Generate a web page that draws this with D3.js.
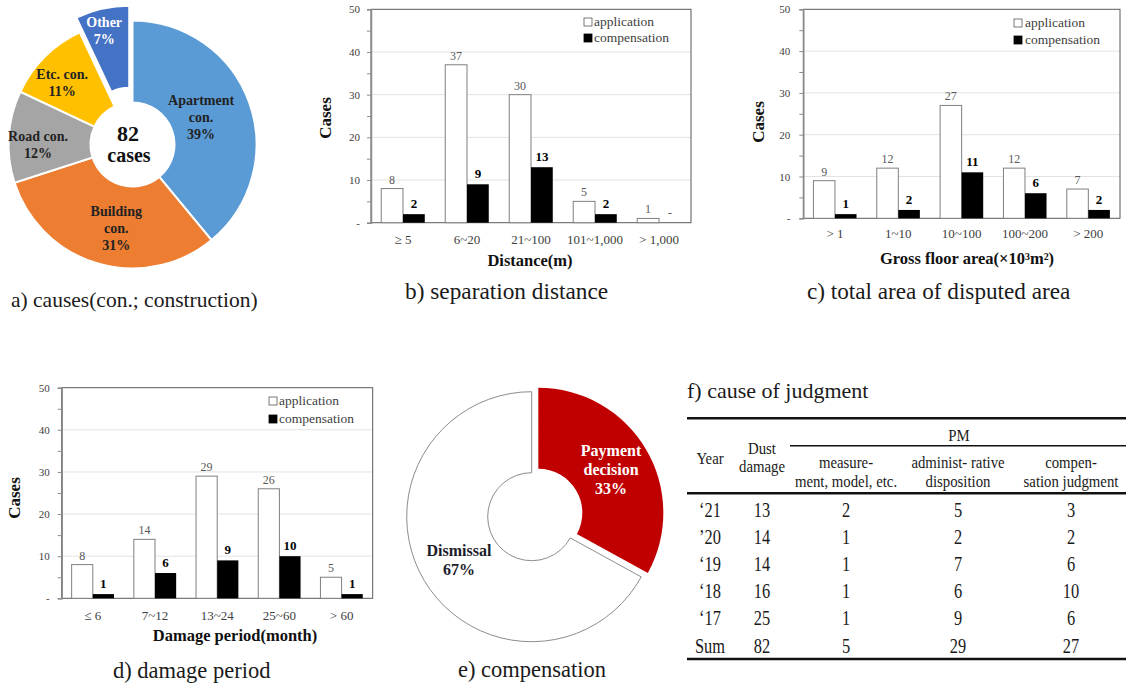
<!DOCTYPE html>
<html>
<head>
<meta charset="utf-8">
<script src="https://cdn.jsdelivr.net/npm/d3@7"></script>
<style>
  html, body { margin: 0; padding: 0; background: #fff; }
  svg { display: block; }
  text { font-family: "Liberation Serif", "Times New Roman", serif; }
</style>
</head>
<body>
<svg id="fig" width="1126" height="689"></svg>
<script>
// ---------- data ----------
// a) causes of dust-damage disputes (share of 82 cases, %)
const causeLabels = ["Apartment\ncon.", "Building\ncon.", "Road con.", "Etc. con.", "Other"];
const causeShares = [39, 31, 12, 11, 7];
const totalCases = 82;

// grouped bar charts: application vs compensation cases
const distanceCats = ["\u2265 5", "6~20", "21~100", "101~1,000", "> 1,000"];
const distanceApp  = [8, 37, 30, 5, 1];
const distanceComp = [2, 9, 13, 2, 0];

const areaCats = ["> 1", "1~10", "10~100", "100~200", "> 200"];
const areaApp  = [9, 12, 27, 12, 7];
const areaComp = [1, 2, 11, 6, 2];

const periodCats = ["\u2264 6", "7~12", "13~24", "25~60", "> 60"];
const periodApp  = [8, 14, 29, 26, 5];
const periodComp = [1, 6, 9, 10, 1];

const yTicks = [0, 10, 20, 30, 40, 50];

// e) compensation outcome (%)
const outcomeLabels = ["Payment\ndecision", "Dismissal"];
const outcomeShares = [33, 67];

// f) cause of judgment
const tableYears   = ["\u201821", "\u201920", "\u201819", "\u201818", "\u201817", "Sum"];
const tableDust    = [13, 14, 14, 16, 25, 82];
const tableMeasure = [2, 1, 1, 1, 1, 5];
const tableAdmin   = [5, 2, 7, 6, 9, 29];
const tableCompen  = [3, 2, 6, 10, 6, 27];

// ---------- drawing ----------
const svg = d3.select("#fig");
svg.append("rect").attr("width", 1126).attr("height", 689).attr("fill", "#fff");

function multiline(sel, lines, x, yCenter, lineH) {
  const y0 = yCenter - (lines.length - 1) * lineH / 2;
  lines.forEach((t, i) => {
    sel.append("text").attr("x", x).attr("y", y0 + i * lineH).attr("dy", "0.35em")
      .attr("text-anchor", "middle").text(t);
  });
}

// ----- a) donut of causes -----
(function () {
  const cx = 132.5, cy = 144.5;
  const colors = ["#5B9BD5", "#ED7D31", "#A5A5A5", "#FFC000", "#4472C4"];
  const textColors = ["#222", "#222", "#222", "#222", "#fff"];
  const explode = [0, 0, 0, 0, 15];
  // label placement: [angle in degrees clockwise from top, radius]
  const labelPolar = [[68, 74], [191, 85], [270, 94.5], [311.6, 94], [346, 117]];
  const data = causeShares.map((v, i) => ({ v, i }));
  const arcs = d3.pie().sort(null).value(d => d.v)(data);
  const arc = d3.arc().innerRadius(42).outerRadius(124);
  const g = svg.append("g").attr("transform", `translate(${cx},${cy})`);
  g.selectAll("path").data(arcs).join("path")
    .attr("d", arc)
    .attr("transform", d => {
      const m = (d.startAngle + d.endAngle) / 2, o = explode[d.data.i];
      return `translate(${Math.sin(m) * o},${-Math.cos(m) * o})`;
    })
    .attr("fill", d => colors[d.data.i])
    .attr("stroke", "#fff").attr("stroke-width", 2);
  arcs.forEach(d => {
    const i = d.data.i;
    const [deg, r] = labelPolar[i];
    const a = deg * Math.PI / 180;
    const lines = causeLabels[i].split("\n").concat([causeShares[i] + "%"]);
    const lg = g.append("g").attr("font-weight", "bold").attr("font-size", 14).attr("fill", textColors[i]);
    multiline(lg, lines, Math.sin(a) * r, -Math.cos(a) * r, 17);
  });
  const cg = svg.append("g").attr("font-weight", "bold").attr("fill", "#111").attr("text-anchor", "middle");
  cg.append("text").attr("x", 128).attr("y", 141).attr("font-size", 22).text(totalCases);
  cg.append("text").attr("x", 129).attr("y", 162).attr("font-size", 20).text("cases");
})();

// ----- grouped bar chart -----
function barChart(o) {
  const g = svg.append("g");
  const x = d3.scaleBand().domain(o.cats).range([o.x0, o.x1]);
  const sub = d3.scaleBand().domain(["application", "compensation"])
    .range([0, x.bandwidth()]).paddingOuter(0.47);
  const y = d3.scaleLinear().domain([0, 50]).range([o.y1, o.y0]);

  // gridlines
  g.selectAll("line.grid").data(yTicks.filter(t => t > 0 && t < 50)).join("line")
    .attr("x1", o.x0).attr("x2", o.x1).attr("y1", d => y(d)).attr("y2", d => y(d))
    .attr("stroke", "#e3e3e3").attr("stroke-width", 1);

  // frame
  g.append("rect").attr("x", o.x0).attr("y", o.y0).attr("width", o.x1 - o.x0).attr("height", o.y1 - o.y0)
    .attr("fill", "none").attr("stroke", "#595959").attr("stroke-width", 1);

  // y axis
  const ax = g.append("g").attr("transform", `translate(${o.x0},0)`)
    .call(d3.axisLeft(y).tickValues(d3.range(0, 51, 5)).tickSize(4)
      .tickFormat(d => yTicks.includes(d) ? (d === 0 ? "-" : d) : ""));
  ax.select(".domain").attr("stroke", "#8c8c8c").attr("stroke-width", 1.5);
  ax.selectAll(".tick line").attr("stroke", "#8c8c8c");
  ax.selectAll(".tick text").attr("x", -o.labelGap).attr("font-size", 11).attr("fill", "#404040")
    .attr("font-family", "Liberation Serif, serif");

  // bars
  const groups = g.selectAll("g.cat").data(o.cats).join("g")
    .attr("transform", d => `translate(${x(d)},0)`);
  groups.append("rect")
    .attr("x", sub("application")).attr("width", sub.bandwidth())
    .attr("y", (d, i) => y(o.app[i])).attr("height", (d, i) => y(0) - y(o.app[i]))
    .attr("fill", "#fff").attr("stroke", "#7f7f7f").attr("stroke-width", 1);
  groups.append("rect")
    .attr("x", sub("compensation")).attr("width", sub.bandwidth())
    .attr("y", (d, i) => y(o.comp[i])).attr("height", (d, i) => y(0) - y(o.comp[i]))
    .attr("fill", "#000");

  // value labels
  groups.append("text")
    .attr("x", sub("application") + sub.bandwidth() / 2)
    .attr("y", (d, i) => y(o.app[i]) - 5)
    .attr("text-anchor", "middle").attr("font-size", 12).attr("fill", "#595959")
    .text((d, i) => o.app[i]);
  groups.append("text")
    .attr("x", sub("compensation") + sub.bandwidth() / 2)
    .attr("y", (d, i) => y(o.comp[i]) - 6)
    .attr("text-anchor", "middle")
    .attr("font-size", (d, i) => o.comp[i] === 0 ? 12 : 13)
    .attr("font-weight", (d, i) => o.comp[i] === 0 ? "normal" : "bold")
    .attr("fill", (d, i) => o.comp[i] === 0 ? "#595959" : "#000")
    .text((d, i) => o.comp[i] === 0 ? "-" : o.comp[i]);

  // category labels
  groups.append("text")
    .attr("x", x.bandwidth() / 2).attr("y", o.catY)
    .attr("text-anchor", "middle").attr("font-size", 13).attr("fill", "#404040")
    .text(d => d);

  // axis titles
  g.append("text").attr("x", o.titleX).attr("y", o.titleY).attr("text-anchor", "middle")
    .attr("font-size", 16.5).attr("font-weight", "bold").attr("fill", "#111").text(o.title);
  g.append("text").attr("transform", `translate(${o.casesX},${o.casesY}) rotate(-90)`)
    .attr("text-anchor", "middle").attr("font-size", 17).attr("font-weight", "bold").attr("fill", "#111")
    .text("Cases");

  // legend
  const lg = g.append("g").attr("font-size", 13.5).attr("fill", "#404040");
  [["application", "#fff"], ["compensation", "#000"]].forEach(([name, fill], i) => {
    const ly = o.legY[i];
    lg.append("rect").attr("x", o.legX).attr("y", ly - 4).attr("width", 8).attr("height", 8)
      .attr("fill", fill).attr("stroke", fill === "#fff" ? "#595959" : "#000").attr("stroke-width", 0.8);
    lg.append("text").attr("x", o.legX + o.legGap).attr("y", ly).attr("dy", "0.33em").text(name);
  });
}

barChart({
  cats: distanceCats, app: distanceApp, comp: distanceComp,
  x0: 371, x1: 691, y0: 9.3, y1: 222.7, labelGap: 11,
  catY: 243.5, title: "Distance(m)", titleX: 530, titleY: 266,
  casesX: 331, casesY: 118, legX: 584, legGap: 10, legY: [22, 38]
});
barChart({
  cats: areaCats, app: areaApp, comp: areaComp,
  x0: 803.3, x1: 1120, y0: 9.3, y1: 218.3, labelGap: 13,
  catY: 237.5, title: "Gross floor area(\u00d710\u00b3m\u00b2)", titleX: 967, titleY: 264,
  casesX: 764, casesY: 122, legX: 1014, legGap: 11, legY: [23, 40]
});
barChart({
  cats: periodCats, app: periodApp, comp: periodComp,
  x0: 61.7, x1: 372.7, y0: 387.7, y1: 598.3, labelGap: 12,
  catY: 619.5, title: "Damage period(month)", titleX: 235, titleY: 641,
  casesX: 20, casesY: 498, legX: 269, legGap: 10, legY: [401, 419]
});

// ----- e) donut of compensation outcome -----
(function () {
  const cx = 531.7, cy = 516.7;
  const explode = [7.7, 0];
  const data = outcomeShares.map((v, i) => ({ v, i }));
  const arcs = d3.pie().sort(null).value(d => d.v)(data);
  const arc = d3.arc().innerRadius(44).outerRadius(125);
  const g = svg.append("g").attr("transform", `translate(${cx},${cy})`);
  const shift = d => {
    const m = (d.startAngle + d.endAngle) / 2, o = explode[d.data.i];
    return [Math.sin(m) * o, -Math.cos(m) * o];
  };
  g.selectAll("path").data(arcs).join("path")
    .attr("d", arc)
    .attr("transform", d => `translate(${shift(d)})`)
    .attr("fill", d => d.data.i === 0 ? "#C00000" : "#fff")
    .attr("stroke", d => d.data.i === 0 ? "none" : "#8c8c8c")
    .attr("stroke-width", 1);
  arcs.forEach(d => {
    const [sx, sy] = shift(d);
    const [lx, ly] = arc.centroid(d);
    const lines = outcomeLabels[d.data.i].split("\n").concat([outcomeShares[d.data.i] + "%"]);
    const lg = g.append("g").attr("font-weight", "bold").attr("font-size", 16)
      .attr("fill", d.data.i === 0 ? "#fff" : "#1c1c2a");
    multiline(lg, lines, lx + sx, ly + sy, 19);
  });
})();

// ----- f) table -----
(function () {
  const g = svg.append("g").attr("fill", "#1a1a1a");
  const left = 687, right = 1126;
  const cols = [710, 762, 846, 958, 1071];
  const squeeze = (sel, x, y, t, size, sx) => sel.append("text")
    .attr("transform", `translate(${x},${y}) scale(${sx},1)`)
    .attr("text-anchor", "middle").attr("font-size", size).text(t);

  // rules
  const rule = (x1, x2, y, w) => g.append("line").attr("x1", x1).attr("x2", x2)
    .attr("y1", y).attr("y2", y).attr("stroke", "#111").attr("stroke-width", w);
  rule(left, right, 418.3, 2.5);
  rule(790, right, 445.7, 1.5);
  rule(left, right, 493.3, 2.5);
  rule(left, right, 659, 2.5);

  // header
  const hs = 17, hx = 0.87;
  squeeze(g, 959, 441, "PM", hs, hx);
  squeeze(g, cols[0], 464, "Year", hs, hx);
  squeeze(g, cols[1], 454, "Dust", hs, hx);
  squeeze(g, cols[1], 472, "damage", hs, hx);
  squeeze(g, cols[2], 468, "measure-", hs, hx);
  squeeze(g, cols[2], 487, "ment, model, etc.", hs, hx);
  squeeze(g, cols[3], 468, "administ- rative", hs, hx);
  squeeze(g, cols[3], 487, "disposition", hs, hx);
  squeeze(g, cols[4], 468, "compen-", hs, hx);
  squeeze(g, cols[4], 487, "sation judgment", hs, hx);

  // body rows
  const rowY = d3.scalePoint().domain(tableYears).range([516.5, 652.5]);
  tableYears.forEach((yr, i) => {
    const yy = rowY(yr);
    [yr, tableDust[i], tableMeasure[i], tableAdmin[i], tableCompen[i]].forEach((v, j) => {
      squeeze(g, cols[j], yy, v, 20, 0.82);
    });
  });
})();

// ----- captions -----
const caps = svg.append("g").attr("fill", "#1a1a1a");
[
  ["a) causes(con.; construction)", 11, 307, 21.5],
  ["b) separation distance", 405, 299, 23.3],
  ["c) total area of disputed area", 807, 299, 23.2],
  ["d) damage period", 113, 678, 22.5],
  ["e) compensation", 458, 677, 22.5],
  ["f) cause of judgment", 687, 398, 22]
].forEach(([t, x, y, s]) => caps.append("text").attr("x", x).attr("y", y).attr("font-size", s).text(t));
</script>
</body>
</html>
